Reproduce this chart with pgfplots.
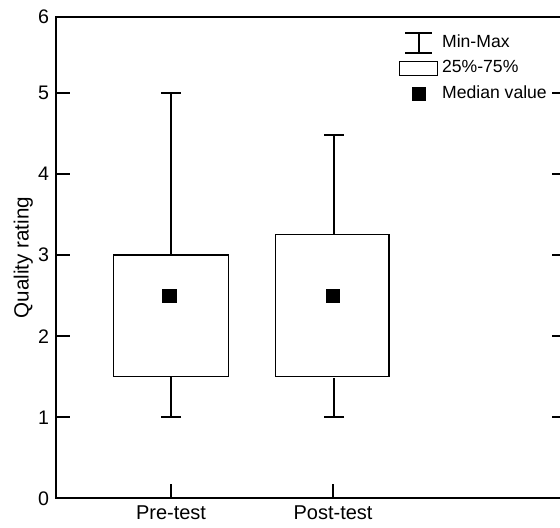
\documentclass[border=0pt]{standalone}
\usepackage{pgfplots}
\pgfplotsset{compat=1.18}
\usepackage{fontspec}
\setmainfont{Liberation Sans}
\begin{document}
\begin{tikzpicture}
\begin{axis}[
  scale only axis,
  width=255pt, height=240.9pt,
  xmin=0.29, xmax=3.438, ymin=0, ymax=5.936,
  axis line style={line width=1pt},
  tick style={line width=1pt, black},
  tick align=inside,
  major tick length=7pt,
  xtick={1,2}, xticklabels={Pre-test,Post-test},
  xtick pos=left, ytick pos=both,
  ytick={0,1,2,3,4,5},
  extra y ticks={5.936}, extra y tick labels={6},
  extra y tick style={major tick length=0pt},
  /pgf/number format/assume math mode=true,
  yticklabel style={font=\fontsize{9.8}{11}\selectfont},
  xticklabel style={font=\fontsize{10}{12}\selectfont},
  ylabel={Quality rating},
  every axis y label/.style={at={(axis description cs:-0.064,0.5)}, rotate=90, anchor=center, font=\fontsize{10.3}{12}\selectfont},
  legend cell align=left,
  legend style={draw=none, fill=none, inner sep=0pt, column sep=0pt, row sep=1pt,
    at={(rel axis cs:0.6716,0.9715)}, anchor=north west,
    font=\fontsize{8.8}{10}\selectfont, nodes={inner sep=2pt, text depth=0.15em}},
  clip=false,
]
% boxes (25%-75%)
\addplot[black, line width=0.6pt, fill=white, forget plot] coordinates {(0.646,1.5) (1.354,1.5) (1.354,3.0) (0.646,3.0) (0.646,1.5)};
\addplot[black, line width=0.6pt, fill=white, forget plot] coordinates {(1.646,1.5) (2.346,1.5) (2.346,3.25) (1.646,3.25) (1.646,1.5)};
% upper whiskers
\addplot[draw=none, mark=none, forget plot,
  error bars/.cd, y dir=plus, y explicit,
  error bar style={line width=1pt, black},
  error mark options={rotate=90, mark size=5pt, line width=1pt, black}]
  coordinates {(1,3.0) +- (0,2.0) (2.006,3.25) +- (0,1.23)};
% lower whiskers
\addplot[draw=none, mark=none, forget plot,
  error bars/.cd, y dir=minus, y explicit,
  error bar style={line width=1pt, black},
  error mark options={rotate=90, mark size=5pt, line width=1pt, black}]
  coordinates {(1,1.5) +- (0,0.5) (2.006,1.48) +- (0,0.48)};
% medians
\addplot[only marks, mark=square*, mark size=3.3pt, black, forget plot] coordinates {(0.99,2.5) (2.0,2.5)};
% legend
\addlegendimage{legend image code/.code={\draw[line width=1pt, black] (-6.75pt,5pt)--(6.75pt,5pt) (-6.75pt,-5pt)--(6.75pt,-5pt) (0pt,5pt)--(0pt,-5pt);}}
\addlegendentry{Min-Max}
\addlegendimage{legend image code/.code={\draw[line width=0.6pt, black, fill=white] (-9.5pt,-3.5pt) rectangle (9.5pt,3.5pt);}}
\addlegendentry{25\%-75\%}
\addlegendimage{legend image code/.code={\fill[black] (-3.3pt,-3.3pt) rectangle (3.3pt,3.3pt);}}
\addlegendentry{Median value}
\coordinate (bl) at (rel axis cs:0,0);
\end{axis}
\pgfresetboundingbox
\path ([shift={(-28pt,-14.75pt)}]bl) rectangle ([shift={(252pt,249.25pt)}]bl);
\end{tikzpicture}
\end{document}
